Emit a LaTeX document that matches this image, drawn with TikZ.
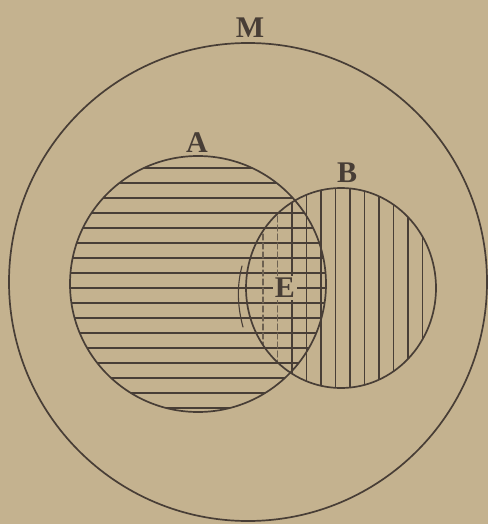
\documentclass[tikz,border=0pt]{standalone}
\usepackage{fontspec}
\setmainfont{Liberation Serif}
\definecolor{paper}{RGB}{196,178,143}
\definecolor{ink}{RGB}{72,62,54}
\begin{document}
\begin{tikzpicture}[x=1pt,y=-1pt,line cap=round]
\tikzset{
  outline/.style={draw=ink,line width=1.7pt},
  hatch/.style={draw=ink,line width=1.3pt},
  fainthatch/.style={draw=ink!70!paper,line width=1.1pt,dash pattern=on 6pt off 3pt},
  lbl/.style={text=ink,font=\fontsize{30}{30}\selectfont\bfseries,inner sep=0pt}
}
\fill[paper] (0,0) rectangle (488,524);
\useasboundingbox (0,0) rectangle (488,524);
% horizontal hatching of A
\begin{scope}
  \clip (198,284) circle (128pt);
  \foreach \y in {168,183,...,408} \draw[hatch] (60,\y) -- (340,\y);
\end{scope}
% vertical hatching of B
\begin{scope}
  \clip (341,288) ellipse [x radius=95pt,y radius=100pt];
  \foreach \x in {263,277.5} \draw[fainthatch] (\x,180) -- (\x,400);
  \foreach \x in {292,306.5,...,423} \draw[hatch] (\x,180) -- (\x,400);
\end{scope}
% circles
\draw[outline] (248,282) circle (239pt);
\draw[outline] (198,284) circle (128pt);
\draw[outline] (341,288) ellipse [x radius=95pt,y radius=100pt];
\draw[draw=ink,line width=1.1pt] (242,266) .. controls (237,285) and (237,305) .. (243,327);
% labels
\node[lbl] (M) at (250,28) {M};
\node[lbl] (A) at (197,143) {A};
\node[lbl] (B) at (347,173) {B};
\node[lbl,fill=paper,inner sep=2pt] (E) at (285,288) {E};
\end{tikzpicture}
\end{document}
